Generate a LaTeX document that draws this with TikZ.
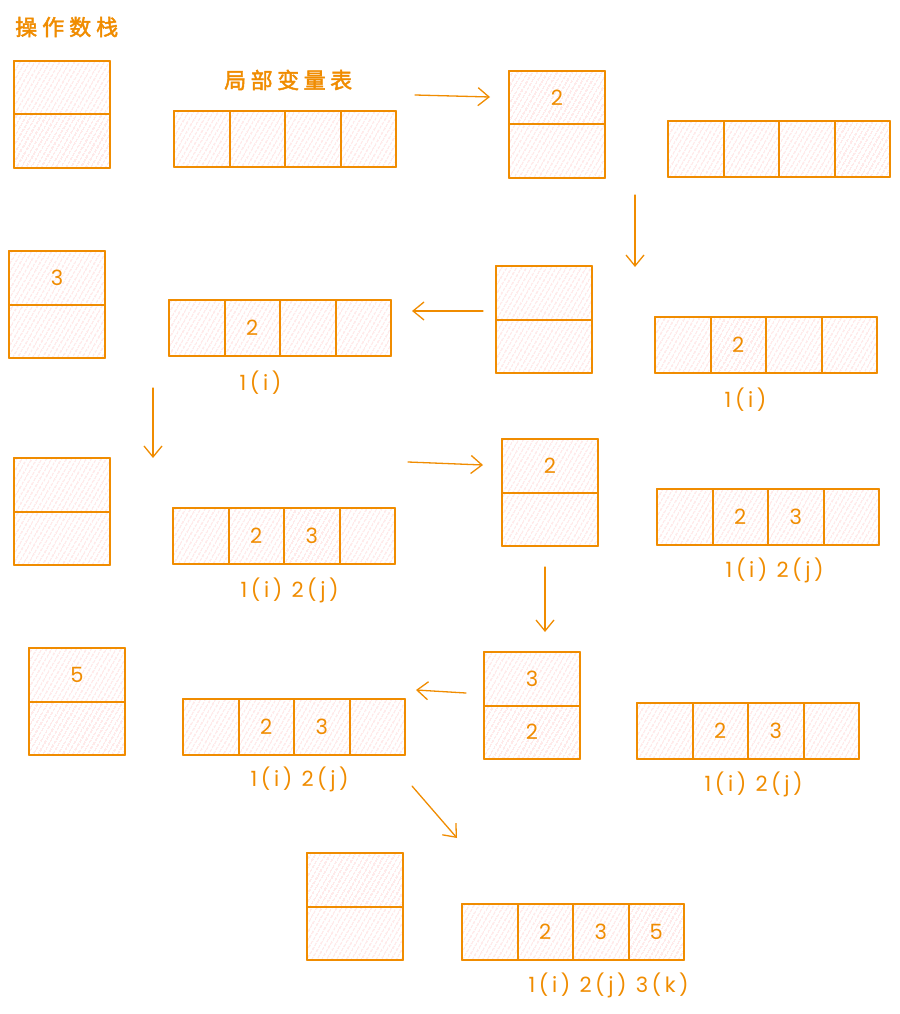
\documentclass[tikz,border=0pt]{standalone}
\usepackage{fontspec}
\setmainfont{Poppins}
\newfontfamily\cjk{Noto Sans CJK SC}[FakeBold=2]
\usetikzlibrary{arrows.meta,patterns.meta}
\definecolor{ex}{HTML}{F08C00}
\definecolor{hach}{HTML}{FFC4C4}
\tikzset{
 x=1pt, y=-1pt,
 box/.style={draw=ex, line width=2pt, outer sep=0pt, inner sep=0pt,
   pattern={Lines[angle=60,distance=4pt,line width=0.7pt]}, pattern color=hach,
   text=ex, font=\fontsize{21}{21}\selectfont, line join=round},
 stkbox/.style={box, minimum width=96pt, minimum height=53.5pt},
 locbox/.style={box, minimum width=55.5pt, minimum height=55.5pt},
 edge/.style={draw=ex, line width=2pt, line join=round},
 lbl/.style={text=ex, font=\fontsize{21}{21}\selectfont\addfontfeature{LetterSpace=17}, inner sep=0pt, anchor=west},
 ttl/.style={text=ex, font=\cjk\fontsize{22}{22}\selectfont, inner sep=0pt, anchor=west},
 arr/.style={draw=ex, line width=1.3pt, line cap=round,
   -{Straight Barb[length=11pt,width=18pt,line width=1.3pt]}},
}
\newcommand{\opstack}[5]{%
 \node[stkbox, anchor=north west] (#1t) at (#2,#3) {#4};
 \node[stkbox, anchor=north] (#1b) at (#1t.south) {#5};}
\newcommand{\lvtable}[7]{%
 \node[locbox, anchor=north west] (#1a) at (#2,#3) {#4};
 \node[locbox, anchor=west] (#1b) at (#1a.east) {#5};
 \node[locbox, anchor=west] (#1c) at (#1b.east) {#6};
 \node[locbox, anchor=west] (#1d) at (#1c.east) {#7};}
\begin{document}
\begin{tikzpicture}
\fill[white] (0,0) rectangle (899,1014);
\node[ttl] (title) at (15,27) {操\hspace{5pt}作\hspace{5pt}数\hspace{5pt}栈};
\node[ttl] (lvtitle) at (224,80) {局\hspace{4.5pt}部\hspace{4.5pt}变\hspace{4.5pt}量\hspace{4.5pt}表};

% group 1
\opstack{s1}{14}{61}{}{}
\lvtable{v1}{174}{111}{}{}{}{}
% group 2
\opstack{s2}{509}{71}{2}{}
\lvtable{v2}{668}{121}{}{}{}{}
% group 3
\opstack{s3}{496}{266}{}{}
\lvtable{v3}{655}{317}{}{2}{}{}
\node[lbl] (l3) at ([xshift=14pt,yshift=-27pt]v3b.south west) {1(i)};
% group 4
\opstack{s4}{9}{251}{3}{}
\lvtable{v4}{169}{300}{}{2}{}{}
\node[lbl] (l4) at ([xshift=15pt,yshift=-27pt]v4b.south west) {1(i)};
% group 5
\opstack{s5}{14}{458}{}{}
\lvtable{v5}{173}{508}{}{2}{3}{}
\node[lbl] (l5) at ([xshift=12pt,yshift=-27pt]v5b.south west) {1(i) 2(j)};
% group 6
\opstack{s6}{502}{439}{2}{}
\lvtable{v6}{657}{489}{}{2}{3}{}
\node[lbl] (l6) at ([xshift=13pt,yshift=-26pt]v6b.south west) {1(i) 2(j)};
% group 7
\opstack{s7}{484}{652}{3}{2}
\lvtable{v7}{637}{703}{}{2}{3}{}
\node[lbl] (l7) at ([xshift=12pt,yshift=-26pt]v7b.south west) {1(i) 2(j)};
% group 8
\opstack{s8}{29}{648}{5}{}
\lvtable{v8}{183}{699}{}{2}{3}{}
\node[lbl] (l8) at ([xshift=12pt,yshift=-25pt]v8b.south west) {1(i) 2(j)};
% group 9
\opstack{s9}{307}{853}{}{}
\lvtable{v9}{462}{904}{}{2}{3}{5}
\node[lbl] (l9) at ([xshift=11pt,yshift=-26pt]v9b.south west) {1(i) 2(j) 3(k)};

% redraw shared borders on top of the hatching
\foreach \g in {1,...,9} {
  \foreach \p in {s\g t, s\g b, v\g a, v\g b, v\g c, v\g d} {
    \draw[edge] (\p.north west) rectangle (\p.south east);
  }
}

% arrows
\coordinate (a1s) at (415,95);  \coordinate (a1e) at (490,97);
\coordinate (a2s) at (635,195); \coordinate (a2e) at (635,267);
\coordinate (a3s) at (483,311); \coordinate (a3e) at (412,311);
\coordinate (a4s) at (153,388); \coordinate (a4e) at (153,458);
\coordinate (a5s) at (408,462); \coordinate (a5e) at (483,465);
\coordinate (a6s) at (545,567); \coordinate (a6e) at (545,632);
\coordinate (a7s) at (466,693); \coordinate (a7e) at (416,690);
\coordinate (a8s) at (412,786); \coordinate (a8e) at (457,838);
\foreach \i in {1,...,8} { \draw[arr] (a\i s) -- (a\i e); }
\end{tikzpicture}
\end{document}
